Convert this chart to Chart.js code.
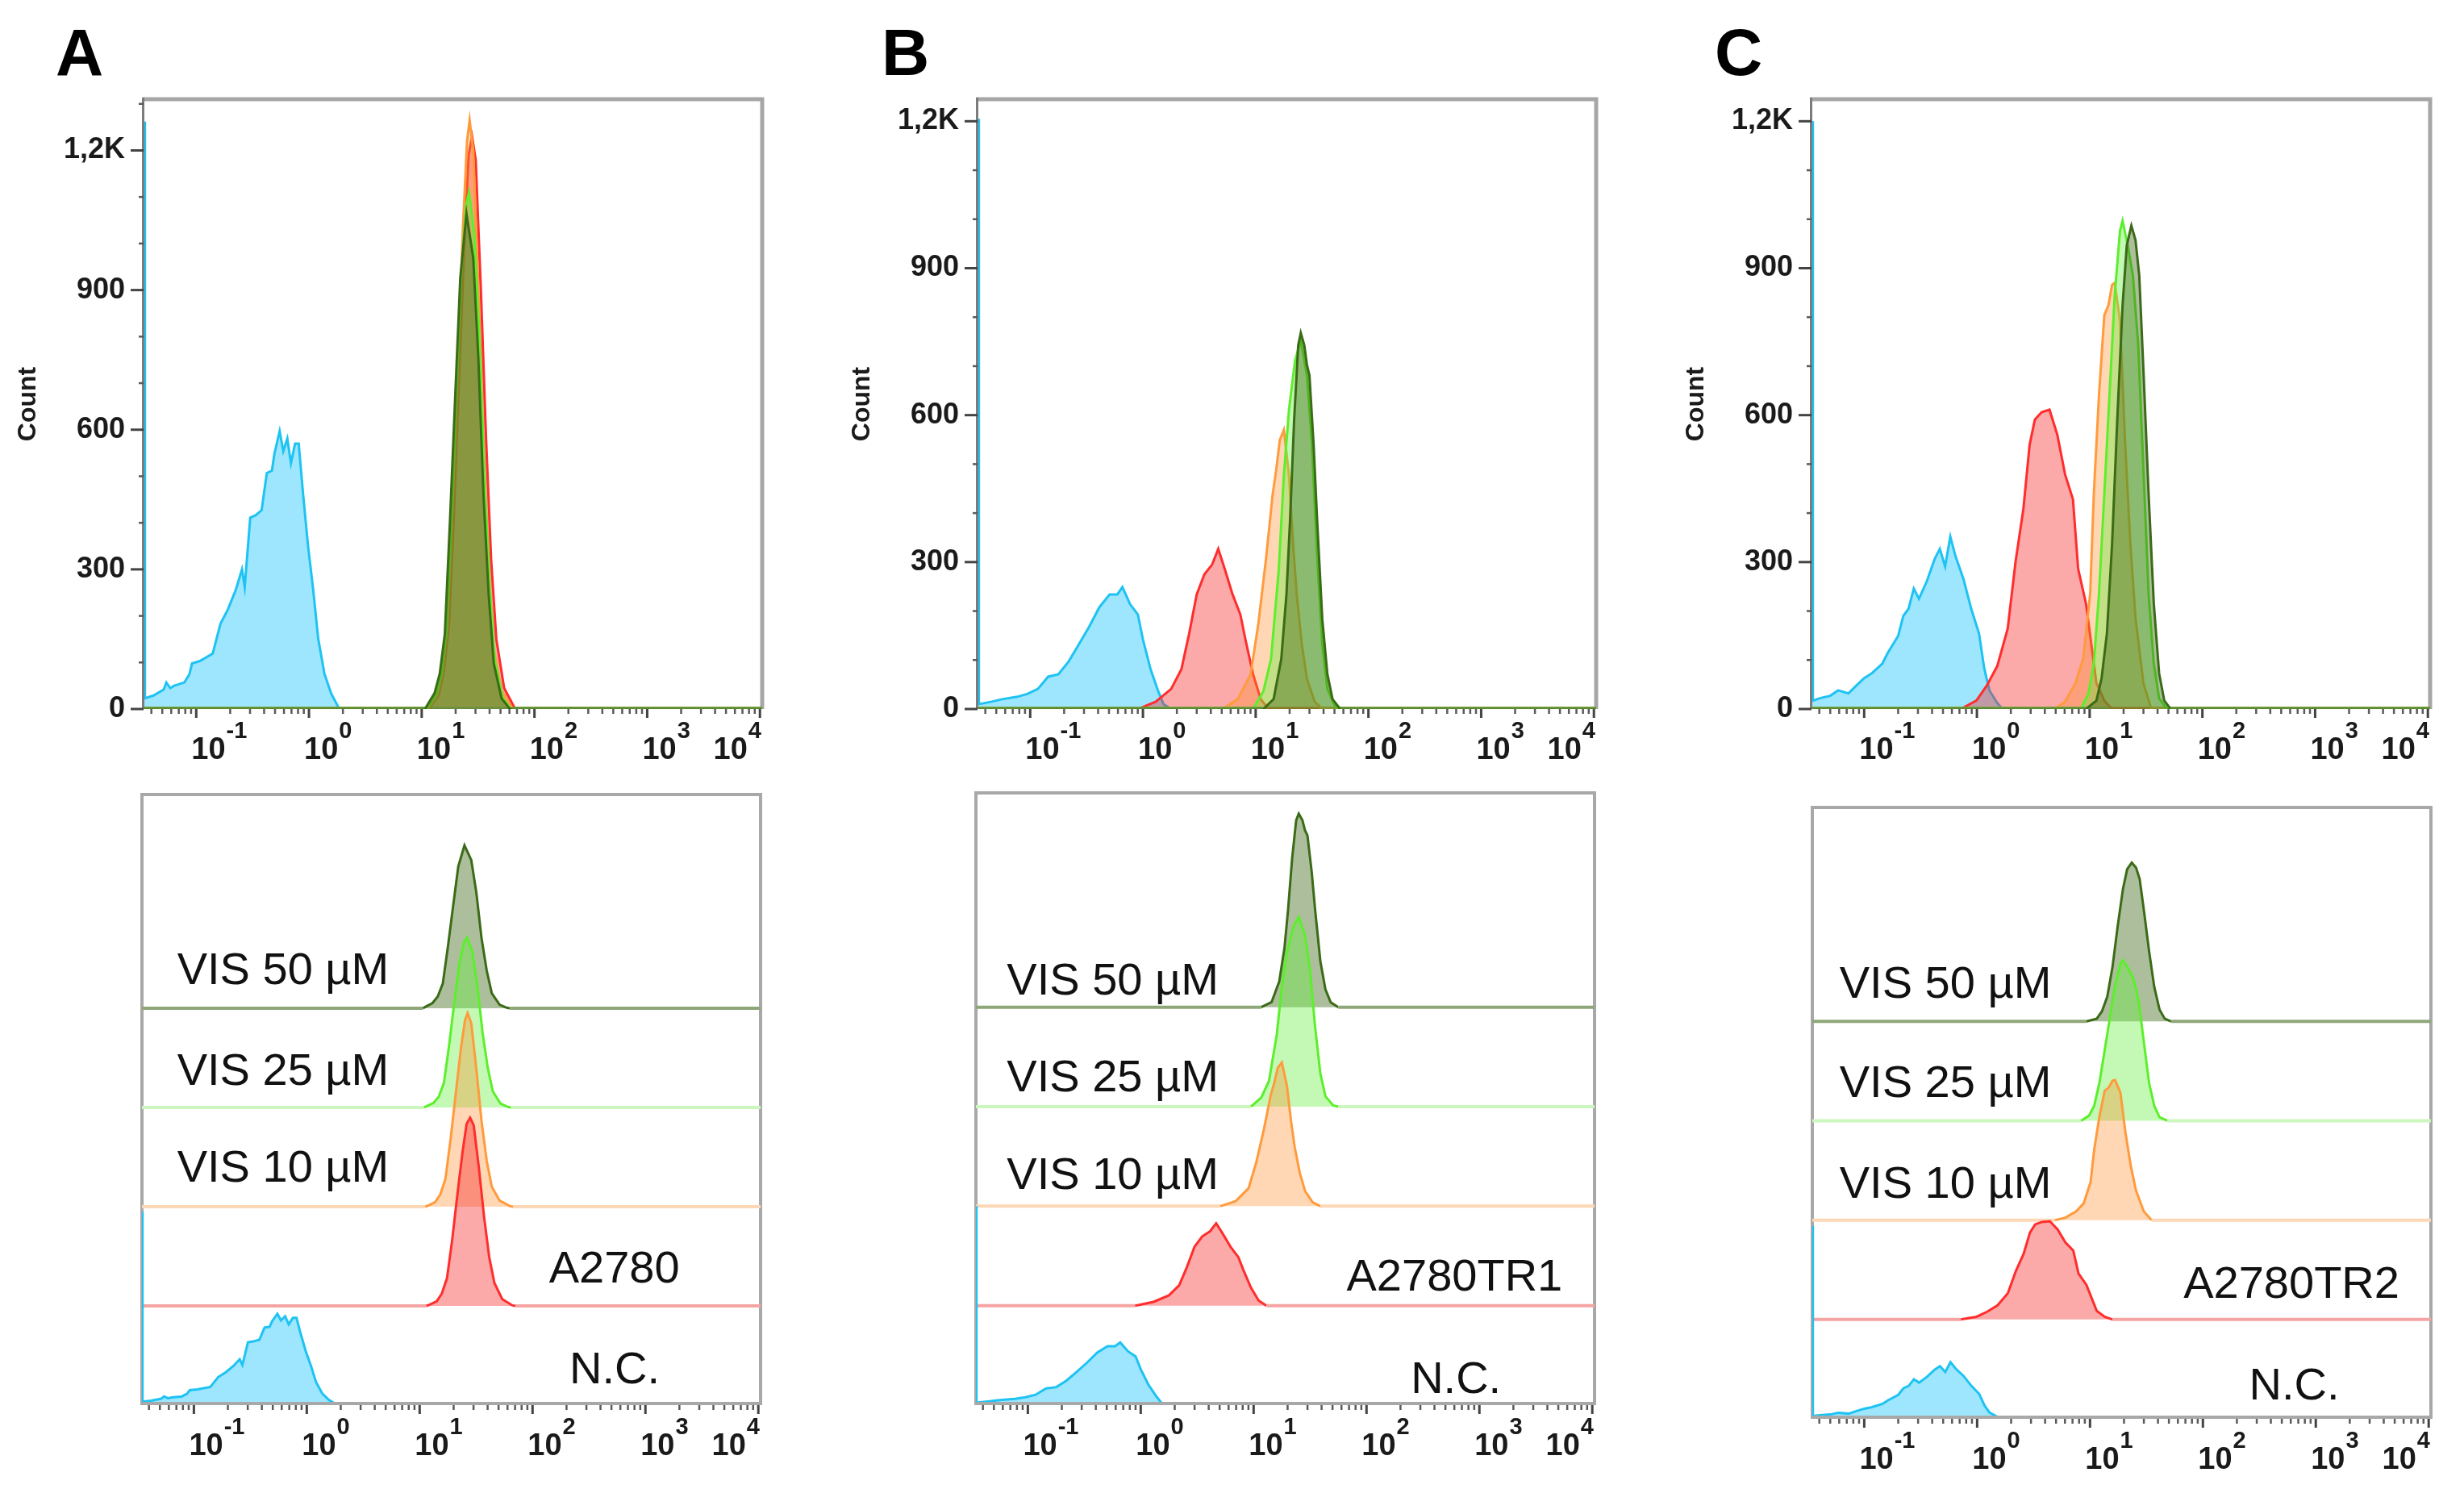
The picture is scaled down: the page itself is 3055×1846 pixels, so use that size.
<!DOCTYPE html>
<html>
<head>
<meta charset="utf-8">
<script src="https://cdn.jsdelivr.net/npm/chart.js@4.4.1/dist/chart.umd.min.js"></script>
<style>
html,body{margin:0;padding:0;background:#fff;width:3055px;height:1846px;overflow:hidden;}
canvas{position:absolute;}
.letter{position:absolute;font:bold 82px "Liberation Sans",Arial,Helvetica,sans-serif;line-height:82px;color:#000;}
</style>
</head>
<body>
<div class="letter" style="left:69px;top:24px;">A</div>
<div class="letter" style="left:1093px;top:24px;">B</div>
<div class="letter" style="left:2126px;top:24px;">C</div>
<script>
// ---------- axis / label values ----------
const LOG_MIN = -1.46, LOG_MAX = 4.02;          // x range (log10 of intensity)
const X_DECADES = [-1, 0, 1, 2, 3, 4];
const Y_TICKS_TOP = [0, 300, 600, 900, 1200];
const Y_TICK_LABELS = ['0', '300', '600', '900', '1,2K'];
const SERIES_NAMES = ['N.C.', 'cell', 'VIS 10 µM', 'VIS 25 µM', 'VIS 50 µM'];
const CELL_LINES = ['A2780', 'A2780TR1', 'A2780TR2'];

// ---------- histogram values: [log10(intensity), count] ----------
// Panel A
const A_NC = [[-1.46,1262],[-1.455,23],[-1.379,29],[-1.288,42],[-1.265,57],[-1.23,45],[-1.196,50],[-1.105,57],[-1.06,75],[-1.037,98],[-0.968,103],[-0.854,119],[-0.785,183],[-0.717,215],[-0.648,257],[-0.594,300],[-0.57,262],[-0.521,411],[-0.475,416],[-0.42,427],[-0.374,507],[-0.329,512],[-0.306,549],[-0.26,597],[-0.228,554],[-0.192,581],[-0.16,528],[-0.123,570],[-0.091,570],[-0.055,469],[-0.009,352],[0.037,257],[0.082,151],[0.137,76],[0.196,34],[0.265,2],[0.29,0]];
const A_CELL = [[1.06,0],[1.078,5],[1.151,30],[1.196,80],[1.242,180],[1.288,430],[1.333,720],[1.379,1000],[1.416,1190],[1.447,1230],[1.479,1180],[1.525,900],[1.571,580],[1.616,320],[1.662,150],[1.731,45],[1.822,3],[1.85,0]];
const A_10 = [[1.05,0],[1.068,5],[1.137,30],[1.183,80],[1.228,180],[1.274,440],[1.32,740],[1.365,1030],[1.402,1220],[1.425,1265],[1.457,1200],[1.502,900],[1.548,560],[1.594,300],[1.639,130],[1.708,40],[1.799,3],[1.83,0]];
const A_25 = [[1.04,0],[1.059,7],[1.123,30],[1.169,70],[1.215,160],[1.26,400],[1.306,680],[1.352,940],[1.393,1080],[1.42,1110],[1.466,1020],[1.511,800],[1.557,490],[1.603,260],[1.648,105],[1.717,25],[1.785,2],[1.81,0]];
const A_50 = [[1.03,0],[1.046,7],[1.114,34],[1.16,76],[1.205,161],[1.251,406],[1.297,671],[1.342,926],[1.397,1064],[1.457,969],[1.502,756],[1.548,459],[1.594,246],[1.639,98],[1.708,23],[1.776,2],[1.8,0]];
// Panel B
const B_NC = [[-1.46,1205],[-1.455,10],[-1.341,15],[-1.25,20],[-1.114,25],[-1.023,31],[-0.932,41],[-0.841,66],[-0.75,71],[-0.659,97],[-0.568,132],[-0.477,168],[-0.386,208],[-0.295,234],[-0.227,234],[-0.182,249],[-0.114,214],[-0.045,193],[0,142],[0.068,81],[0.136,36],[0.182,10],[0.25,0]];
const B_CELL = [[-0.05,0],[-0.023,2],[0.114,15],[0.25,41],[0.341,81],[0.409,153],[0.477,234],[0.545,275],[0.614,295],[0.668,327],[0.727,285],[0.795,234],[0.864,193],[0.909,142],[0.977,71],[1.045,20],[1.114,0]];
const B_10 = [[0.705,0],[0.841,20],[0.955,71],[1.023,173],[1.091,305],[1.15,437],[1.182,488],[1.214,549],[1.25,570],[1.295,478],[1.332,336],[1.364,234],[1.409,132],[1.455,61],[1.523,15],[1.591,0]];
const B_25 = [[0.977,0],[1.068,36],[1.136,102],[1.205,285],[1.25,478],[1.295,610],[1.35,712],[1.4,753],[1.455,681],[1.5,539],[1.545,315],[1.591,132],[1.636,41],[1.705,5],[1.75,0]];
const B_50 = [[1.068,0],[1.159,20],[1.227,102],[1.273,234],[1.305,386],[1.341,590],[1.377,742],[1.4,768],[1.432,742],[1.455,702],[1.477,681],[1.514,539],[1.545,386],[1.591,183],[1.636,71],[1.682,20],[1.75,0]];
// Panel C
const C_NC = [[-1.46,1200],[-1.455,17],[-1.394,22],[-1.301,27],[-1.231,38],[-1.139,32],[-1.069,48],[-1.0,63],[-0.931,73],[-0.838,93],[-0.792,114],[-0.699,149],[-0.653,190],[-0.606,205],[-0.56,246],[-0.514,225],[-0.444,261],[-0.375,306],[-0.329,327],[-0.282,291],[-0.236,352],[-0.19,312],[-0.12,266],[-0.051,205],[0.019,154],[0.065,83],[0.111,38],[0.181,12],[0.227,0]];
const C_CELL = [[-0.144,0],[-0.005,17],[0.088,48],[0.181,88],[0.273,164],[0.343,301],[0.412,408],[0.468,540],[0.514,591],[0.574,606],[0.644,611],[0.713,560],[0.782,479],[0.852,428],[0.898,286],[0.968,215],[1.014,134],[1.06,53],[1.13,17],[1.199,0]];
const C_10 = [[0.69,0],[0.782,15],[0.875,53],[0.944,104],[1.005,236],[1.037,439],[1.083,642],[1.13,804],[1.167,825],[1.199,866],[1.222,870],[1.269,793],[1.315,540],[1.361,337],[1.407,185],[1.477,53],[1.546,0]];
const C_25 = [[0.921,0],[0.991,32],[1.037,93],[1.083,235],[1.13,438],[1.176,641],[1.222,844],[1.269,976],[1.292,997],[1.338,946],[1.384,885],[1.431,743],[1.477,489],[1.523,235],[1.569,93],[1.616,22],[1.685,0]];
const C_50 = [[0.968,0],[1.06,17],[1.106,63],[1.153,154],[1.199,337],[1.245,591],[1.292,824],[1.329,946],[1.37,987],[1.407,957],[1.44,885],[1.477,692],[1.523,438],[1.569,215],[1.616,73],[1.662,17],[1.718,0]];

// ---------- styles & layout ----------
const FAM = '"Liberation Sans", Arial, Helvetica, sans-serif';
const STYLE = [
  {line:'#1ec3f3', fill:'rgba(40,200,250,0.45)', base:'#b2ebfb', topBase:'#1ec3f3', baseW:8},
  {line:'#ff2d2d', fill:'rgba(245,40,40,0.40)', base:'#f6a3a3', topBase:'#ff2d2d', baseW:4},
  {line:'#ff9b3d', fill:'rgba(255,140,40,0.35)', base:'#fed7b6', topBase:'#ff9b3d', baseW:4},
  {line:'#5cef2c', fill:'rgba(100,240,60,0.38)', base:'#cbf6bd', topBase:'#5cef2c', baseW:4},
  {line:'#3b6b17', fill:'rgba(60,100,20,0.42)', base:'#8ea779', topBase:'#5c8c32', baseW:4}
];
const ROW_STEP = 0.1625;
const PANELS = [
  {cell:CELL_LINES[0], data:[A_NC,A_CELL,A_10,A_25,A_50], topMax:1310, botMax:3990,
   top:{l:179,t:123,r:945,b:879}, bot:{l:176,t:985,r:943,b:1742},
   lx:[2.327,2.146,-1.148,-1.148,-1.148], gaps:[27,29,31,28,30]},
  {cell:CELL_LINES[1], data:[B_NC,B_CELL,B_10,B_25,B_50], topMax:1245, botMax:2430,
   top:{l:1213,t:123,r:1979,b:879}, bot:{l:1210,t:983,r:1977,b:1742},
   lx:[2.392,1.823,-1.186,-1.186,-1.186], gaps:[15,19,21,19,16]},
  {cell:CELL_LINES[2], data:[C_NC,C_CELL,C_10,C_25,C_50], topMax:1245, botMax:3800,
   top:{l:2247,t:123,r:3013,b:879}, bot:{l:2247,t:1001,r:3014,b:1759},
   lx:[2.409,1.828,-1.219,-1.219,-1.219], gaps:[24,27,28,29,29]}
];

function toPoints(arr, offset, clampMax) {
  const pts = [];
  if (arr[0][0] > LOG_MIN + 1e-6) pts.push({x: Math.pow(10, LOG_MIN), y: offset, c: 0});
  for (const [lx, c] of arr) {
    const cc = clampMax != null ? Math.min(c, clampMax) : c;
    pts.push({x: Math.pow(10, lx), y: offset + cc, c: cc});
  }
  pts.push({x: Math.pow(10, LOG_MAX), y: offset, c: 0});
  return pts;
}

function makeDs(arr, st, offset, kind, clampMax) {
  const pts = toPoints(arr, offset, clampMax);
  const isBase = ctx => pts[ctx.p0DataIndex].c === 0 && pts[ctx.p1DataIndex].c === 0;
  return {
    data: pts,
    borderColor: st.line,
    borderWidth: 3,
    backgroundColor: st.fill,
    fill: {value: offset},
    pointRadius: 0,
    tension: 0,
    segment: {
      borderColor: ctx => isBase(ctx) ? (kind === 'top' ? st.topBase : st.base) : undefined,
      borderWidth: ctx => isBase(ctx) ? (kind === 'top' ? 5 : st.baseW) : undefined
    }
  };
}

const flowPlugin = {
  id: 'flow',
  beforeDatasetsDraw(chart, args, opts) {
    const {ctx, chartArea: a} = chart;
    ctx.save();
    if (opts.kind === 'top') {
      ctx.strokeStyle = '#a6a6a6'; ctx.lineWidth = 5;
      ctx.beginPath(); ctx.moveTo(a.left - 3, a.top); ctx.lineTo(a.right, a.top); ctx.lineTo(a.right, a.bottom); ctx.stroke();
      ctx.strokeStyle = '#7c7c7c'; ctx.lineWidth = 3;
      ctx.beginPath(); ctx.moveTo(a.left - 1.5, a.top - 2); ctx.lineTo(a.left - 1.5, a.bottom); ctx.stroke();
    } else {
      ctx.strokeStyle = '#a8a8a8'; ctx.lineWidth = 4;
      ctx.beginPath(); ctx.moveTo(a.left, a.bottom); ctx.lineTo(a.left, a.top); ctx.lineTo(a.right, a.top); ctx.lineTo(a.right, a.bottom); ctx.stroke();
    }
    ctx.restore();
  },
  afterDatasetsDraw(chart, args, opts) {
    const {ctx, chartArea: a} = chart;
    const xs = chart.scales.x, ys = chart.scales.y;
    ctx.save();
    if (opts.kind === 'bottom') {
      ctx.strokeStyle = '#a8a8a8'; ctx.lineWidth = 4;
      ctx.beginPath(); ctx.moveTo(a.left - 2, a.bottom - 2); ctx.lineTo(a.right + 2, a.bottom - 2); ctx.stroke();
    }
    // x tick marks
    const vmin = Math.pow(10, LOG_MIN), vmax = Math.pow(10, LOG_MAX);
    for (let d = -2; d <= 3; d++) {
      for (let k = 1; k <= 9; k++) {
        const v = k * Math.pow(10, d);
        if (v < vmin || v > vmax * 1.0001) continue;
        const px = xs.getPixelForValue(v);
        const major = (k === 1);
        ctx.strokeStyle = major ? '#444' : '#5a5a5a';
        ctx.lineWidth = major ? 3 : 2.5;
        ctx.beginPath(); ctx.moveTo(px, a.bottom); ctx.lineTo(px, a.bottom + (major ? 11 : 6)); ctx.stroke();
      }
    }
    {
      const px = xs.getPixelForValue(1e4);
      ctx.strokeStyle = '#444'; ctx.lineWidth = 3;
      ctx.beginPath(); ctx.moveTo(px, a.bottom); ctx.lineTo(px, a.bottom + 11); ctx.stroke();
    }
    // x labels 10^n
    ctx.fillStyle = '#1a1a1a'; ctx.textAlign = 'left'; ctx.textBaseline = 'alphabetic';
    for (const e of X_DECADES) {
      const px = xs.getPixelForValue(Math.pow(10, e));
      const exp = String(e);
      ctx.font = 'bold 38px ' + FAM; const w10 = ctx.measureText('10').width;
      ctx.font = 'bold 29px ' + FAM; const we = ctx.measureText(exp).width;
      let x0 = px - 6;
      if (x0 + w10 + 1 + we > a.right - 1) x0 = a.right - 1 - (w10 + 1 + we);
      ctx.font = 'bold 38px ' + FAM; ctx.fillText('10', x0, a.bottom + 62);
      ctx.font = 'bold 29px ' + FAM; ctx.fillText(exp, x0 + w10 + 1, a.bottom + 36);
    }
    if (opts.kind === 'top') {
      // y tick marks (labels are drawn by the axis)
      for (let v = 0; v <= ys.max; v += 100) {
        const py = ys.getPixelForValue(v);
        const major = Y_TICKS_TOP.includes(v);
        ctx.strokeStyle = major ? '#444' : '#5a5a5a';
        ctx.lineWidth = major ? 3 : 2.5;
        ctx.beginPath(); ctx.moveTo(a.left - 1, py); ctx.lineTo(a.left - (major ? 17 : 7), py); ctx.stroke();
      }
    } else {
      ctx.fillStyle = '#111'; ctx.font = '56px ' + FAM;
      opts.rows.forEach(r => {
        const px = xs.getPixelForValue(Math.pow(10, r.lx));
        const py = ys.getPixelForValue(r.offset) - r.gap;
        ctx.fillText(r.text, px, py);
      });
    }
    ctx.restore();
  }
};

function addCanvas(left, top, w, h) {
  const c = document.createElement('canvas');
  c.width = w; c.height = h;
  c.style.left = left + 'px'; c.style.top = top + 'px';
  c.style.width = w + 'px'; c.style.height = h + 'px';
  document.body.appendChild(c);
  return c;
}

const AXIS_W = 179, BOT_PAD_L = 176, PAD_R = 41, XAXIS_H = 80;

PANELS.forEach(p => {
  // ---- overlay histogram (top) ----
  {
    const r = p.top;
    const cl = r.l - AXIS_W, ct = 0;
    const cv = addCanvas(cl, ct, r.r - cl + PAD_R, r.b - ct + XAXIS_H);
    const order = [4, 3, 2, 1, 0];   // index 0 is drawn last (on top)
    const datasets = order.map(i => makeDs(p.data[i], STYLE[i], 0, 'top', null));
    new Chart(cv, {
      type: 'line',
      data: {datasets},
      options: {
        responsive: false, animation: false, events: [],
        layout: {padding: {left: 0, top: r.t - ct, right: PAD_R, bottom: 0}},
        plugins: {legend: {display: false}, tooltip: {enabled: false}, flow: {kind: 'top'}},
        scales: {
          x: {type: 'logarithmic', min: Math.pow(10, LOG_MIN), max: Math.pow(10, LOG_MAX),
              grid: {display: false, drawTicks: false}, border: {display: false},
              ticks: {display: false}, afterFit: s => { s.height = XAXIS_H; }},
          y: {type: 'linear', min: 0, max: p.topMax,
              afterFit: s => { s.width = AXIS_W; },
              afterBuildTicks: s => { s.ticks = Y_TICKS_TOP.map(v => ({value: v})); },
              grid: {display: false, drawTicks: false}, border: {display: false},
              ticks: {autoSkip: false, padding: 24, color: '#1a1a1a',
                      font: {family: FAM, size: 36, weight: 'bold'},
                      callback: v => { const i = Y_TICKS_TOP.indexOf(v); return i >= 0 ? Y_TICK_LABELS[i] : ''; }},
              title: {display: true, text: 'Count', color: '#1a1a1a',
                      font: {family: FAM, size: 32, weight: 'bold'}, padding: {top: 16, bottom: 0}}}
        }
      },
      plugins: [flowPlugin]
    });
  }
  // ---- offset histogram (bottom) ----
  {
    const r = p.bot;
    const cl = r.l - BOT_PAD_L, ct = 960;
    const cv = addCanvas(cl, ct, r.r - cl + PAD_R, r.b - ct + XAXIS_H);
    const step = ROW_STEP * p.botMax;
    const datasets = [0, 1, 2, 3, 4].map(i =>
      makeDs(p.data[i], STYLE[i], i * step, 'bottom', i === 0 ? 2 * step : null));
    const texts = [SERIES_NAMES[0], p.cell, SERIES_NAMES[2], SERIES_NAMES[3], SERIES_NAMES[4]];
    const rows = texts.map((t, i) => ({text: t, lx: p.lx[i], gap: p.gaps[i], offset: i * step}));
    new Chart(cv, {
      type: 'line',
      data: {datasets},
      options: {
        responsive: false, animation: false, events: [],
        layout: {padding: {left: BOT_PAD_L, top: r.t - ct, right: PAD_R, bottom: 0}},
        plugins: {legend: {display: false}, tooltip: {enabled: false}, flow: {kind: 'bottom', rows}},
        scales: {
          x: {type: 'logarithmic', min: Math.pow(10, LOG_MIN), max: Math.pow(10, LOG_MAX),
              grid: {display: false, drawTicks: false}, border: {display: false},
              ticks: {display: false}, afterFit: s => { s.height = XAXIS_H; }},
          y: {type: 'linear', display: false, min: 0, max: p.botMax}
        }
      },
      plugins: [flowPlugin]
    });
  }
});
</script>
</body>
</html>
